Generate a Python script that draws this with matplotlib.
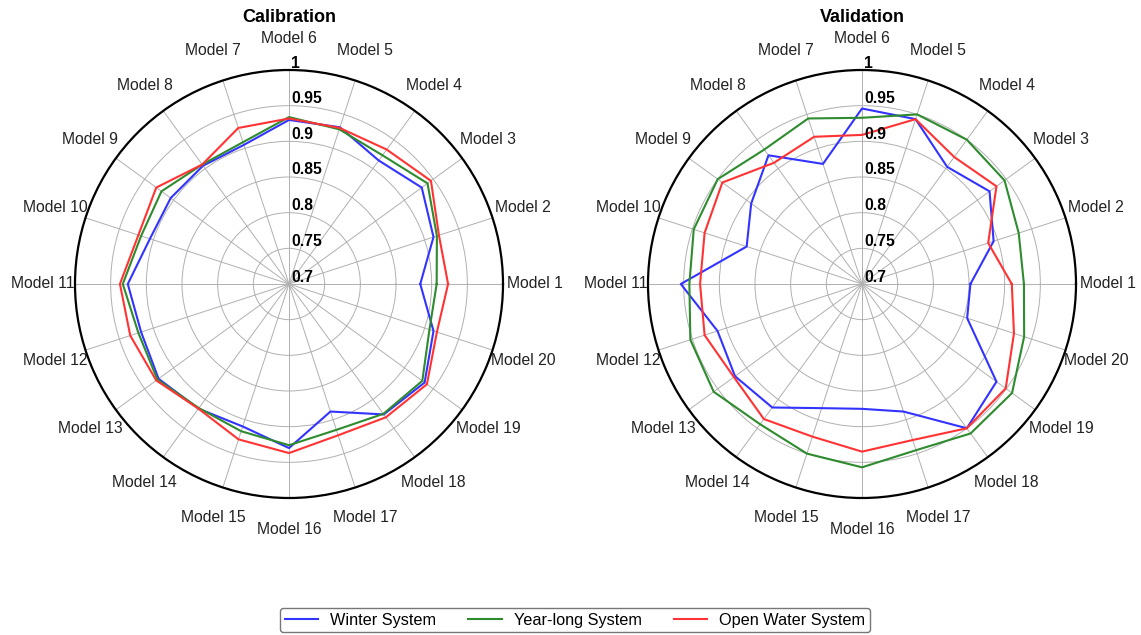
import numpy as np
import matplotlib as mpl
mpl.use('Agg')
from matplotlib import pyplot as plt
from matplotlib import transforms

plt.rcParams['font.family'] = ['Liberation Sans', 'DejaVu Sans']

# Model names, Model 1 sits at 0 degrees and they go round anticlockwise
models = ['Model {}'.format(i) for i in range(1, 21)]

# Calibration scores per model
calib_winter = [0.884, 0.913, 0.930, 0.914, 0.931, 0.930, 0.905, 0.905, 0.905, 0.905,
                0.926, 0.918, 0.926, 0.916, 0.910, 0.930, 0.888, 0.926, 0.935, 0.913]
calib_year = [0.907, 0.918, 0.940, 0.923, 0.928, 0.934, 0.909, 0.907, 0.921, 0.918,
              0.933, 0.922, 0.928, 0.915, 0.917, 0.926, 0.915, 0.925, 0.931, 0.907]
calib_open = [0.923, 0.921, 0.946, 0.933, 0.930, 0.932, 0.930, 0.907, 0.930, 0.922,
              0.937, 0.934, 0.930, 0.916, 0.929, 0.937, 0.923, 0.931, 0.939, 0.918]

# Validation scores per model
valid_winter = [0.852, 0.894, 0.921, 0.903, 0.943, 0.946, 0.877, 0.923, 0.892, 0.870,
                0.954, 0.913, 0.920, 0.914, 0.883, 0.875, 0.888, 0.950, 0.933, 0.855]
valid_year = [0.927, 0.931, 0.947, 0.950, 0.950, 0.933, 0.944, 0.933, 0.950, 0.948,
              0.942, 0.953, 0.957, 0.943, 0.950, 0.957, 0.945, 0.959, 0.960, 0.939]
valid_open = [0.910, 0.886, 0.933, 0.920, 0.943, 0.909, 0.917, 0.910, 0.942, 0.932,
              0.927, 0.932, 0.922, 0.934, 0.925, 0.935, 0.930, 0.950, 0.949, 0.924]

series_names = ['Winter System', 'Year-long System', 'Open Water System']
colors = ['#3333ff', '#2e8b2e', '#ff3333']

rticks = [0.7, 0.75, 0.8, 0.85, 0.9, 0.95, 1.0]
rtick_labels = ['0.7', '0.75', '0.8', '0.85', '0.9', '0.95', '1']

angles = np.linspace(0, 2 * np.pi, len(models), endpoint=False)

fig = plt.figure(figsize=(11.41, 6.35), dpi=100)


def radar(rect, title, data):
    ax = fig.add_axes(rect, projection='polar')
    ax.set_ylim(0.7, 1.0)
    ax.set_xticks(angles)
    ax.set_xticklabels(models, fontsize=11.3, color='#222222')
    ax.tick_params(axis='x', pad=12.5)
    ax.set_yticks(rticks)
    ax.set_yticklabels([])
    ax.grid(True, color='#b0b0b0', linewidth=0.7)
    ax.spines['polar'].set_linewidth(1.6)
    ax.spines['polar'].set_color('black')

    for vals, c, name in zip(data, colors, series_names):
        v = list(vals) + [vals[0]]
        a = list(angles) + [angles[0]]
        ax.plot(a, v, color=c, linewidth=1.5, label=name)

    # radial labels along the Model 6 spoke
    off = transforms.offset_copy(ax.transData, fig=fig, x=2, y=7, units='dots')
    for r, lab in zip(rticks, rtick_labels):
        ax.text(np.pi / 2, r, lab, transform=off, ha='left', va='center',
                fontsize=11.3, fontweight='bold')

    ax.text(0.5, 1.1215, title, transform=ax.transAxes, ha='center', va='center',
            fontsize=13, fontweight='bold')
    return ax


ax1 = radar([75 / 1141, 137 / 635, 428 / 1141, 428 / 635], 'Calibration',
            [calib_winter, calib_year, calib_open])
ax2 = radar([648 / 1141, 137 / 635, 428 / 1141, 428 / 635], 'Validation',
            [valid_winter, valid_year, valid_open])

handles, labels = ax1.get_legend_handles_labels()
fig.legend(handles, labels, loc='center', bbox_to_anchor=(575 / 1141, 15 / 635),
           ncol=3, fontsize=11.7, frameon=True, edgecolor='#555555',
           handlelength=2.05, columnspacing=2.0, handletextpad=0.72,
           borderpad=0.3, borderaxespad=0)

fig.savefig('out.png', dpi=100)
